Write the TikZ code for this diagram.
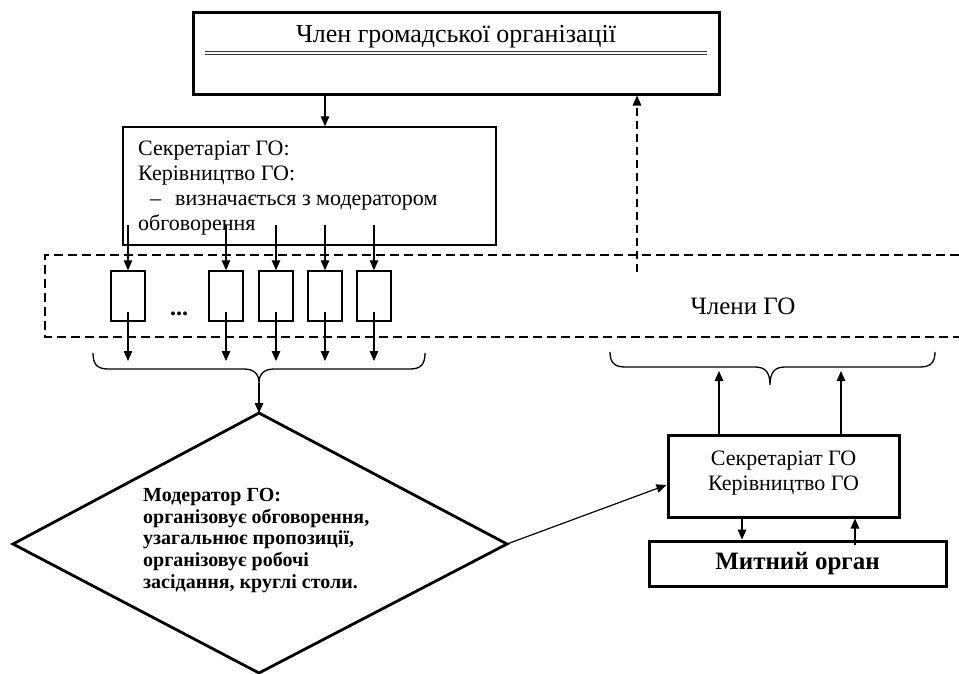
\documentclass[tikz,border=0pt]{standalone}
\usepackage{fontspec}
\setmainfont{Liberation Serif}
\usetikzlibrary{arrows.meta,calc}
\begin{document}
\begin{tikzpicture}[x=1pt,y=-1pt,
  arr/.style={-{Triangle[length=10pt,width=8.5pt]},line width=1.2pt},
  thinbox/.style={draw,line width=1.5pt,inner sep=0pt},
  thickbox/.style={draw,line width=3pt,inner sep=0pt},
  dashline/.style={line width=1.4pt,dash pattern=on 9pt off 5pt}]
\useasboundingbox (0,0) rectangle (959,673);
% top box
\node[thickbox,minimum width=526pt,minimum height=82pt] (top) at (456,53) {};
\node[font=\fontsize{26}{30}\selectfont] (toptxt) at (456,37) {Член громадської організації};
\draw[line width=0.9pt,double,double distance=2.2pt,draw=black!80] (205,53) -- (707,53);
% secretariat box
\node[thinbox,minimum width=373pt,minimum height=118pt] (sec) at (309.5,186) {};
\node[anchor=north west,align=left,inner sep=0pt,font=\fontsize{22}{25}\selectfont] (sectxt) at (138,140.5)
 {Секретаріат ГО:\\Керівництво ГО:\\\hspace*{12pt}–\hspace*{14pt}визначається з модератором\\обговорення};
\draw[arr] (top.south -| 325,0) -- (sec.north -| 325,0);
% dashed members area
\draw[dashline] (959,255) -- (45,255) -- (45,337) -- (959,337);
\node[font=\fontsize{25}{28}\selectfont] (members) at (743,306) {Члени ГО};
\node[font=\bfseries\fontsize{24}{28}\selectfont] (dots) at (179,314) {...};
% small boxes
\foreach \i/\x in {1/128,2/226,3/276,4/325,5/374}{
  \node[thinbox,minimum width=34pt,minimum height=50pt] (b\i) at (\x,296) {};
  \coordinate (bin\i) at (\x,225);
  \coordinate (bout\i) at (\x,361);
  \draw[arr] (bin\i) -- (b\i.north);
  \draw[arr] ([yshift=-16pt]b\i.center) -- (bout\i);
}
% left brace
\coordinate (lbt) at (259,383);
\draw[line width=1.3pt] (93,353) .. controls (93,364) and (97,369) .. (108,369) -- (244,369)
  .. controls (254,369) and (259,374) .. (lbt) .. controls (259,374) and (264,369) .. (274,369)
  -- (410,369) .. controls (421,369) and (425,364) .. (425,353);
% diamond
\coordinate (dt) at (259,413);
\coordinate (dl) at (13,544);
\coordinate (dr) at (507,544);
\coordinate (db) at (259,673);
\draw[line width=2.8pt,line join=miter] (dt) -- (dr) -- (db) -- (dl) -- cycle;
\node[anchor=north west,align=left,inner sep=0pt,font=\bfseries\fontsize{20}{21.7}\selectfont] (mod) at (143,488)
 {Модератор ГО:\\організовує обговорення,\\узагальнює пропозиції,\\організовує робочі\\засідання, круглі столи.};
\draw[arr] (lbt) -- (dt);
% right box
\node[thickbox,minimum width=231pt,minimum height=82pt] (rsec) at (783.5,476) {};
\node[align=center,inner sep=0pt,font=\fontsize{22}{25}\selectfont] (rsectxt) at (783.5,473)
 {Секретаріат ГО\\Керівництво ГО};
\node[thickbox,minimum width=297pt,minimum height=45pt,font=\bfseries\fontsize{25}{28}\selectfont] (mytnyi) at (797.5,563.5) {Митний орган};
\draw[arr] (dr) -- (rsec.west |- 0,485);
\draw[arr] (rsec.south -| 742,0) -- (mytnyi.north -| 742,0);
\draw[arr] (855,545) -- (rsec.south -| 855,0);
% right brace
\draw[line width=1.3pt] (610,352) .. controls (610,362) and (614,367) .. (625,367) -- (755,367)
  .. controls (765,367) and (770,372) .. (770,385) .. controls (770,372) and (775,367) .. (785,367)
  -- (920,367) .. controls (931,367) and (935,362) .. (935,352);
\coordinate (rb1) at (719,371);
\coordinate (rb2) at (841,371);
\draw[arr] (rsec.north -| rb1) -- (rb1);
\draw[arr] (rsec.north -| rb2) -- (rb2);
% dashed return arrow
\coordinate (dstart) at (637,272);
\draw[arr,dash pattern=on 8pt off 5pt] (dstart) -- (top.south -| dstart);
\end{tikzpicture}
\end{document}
